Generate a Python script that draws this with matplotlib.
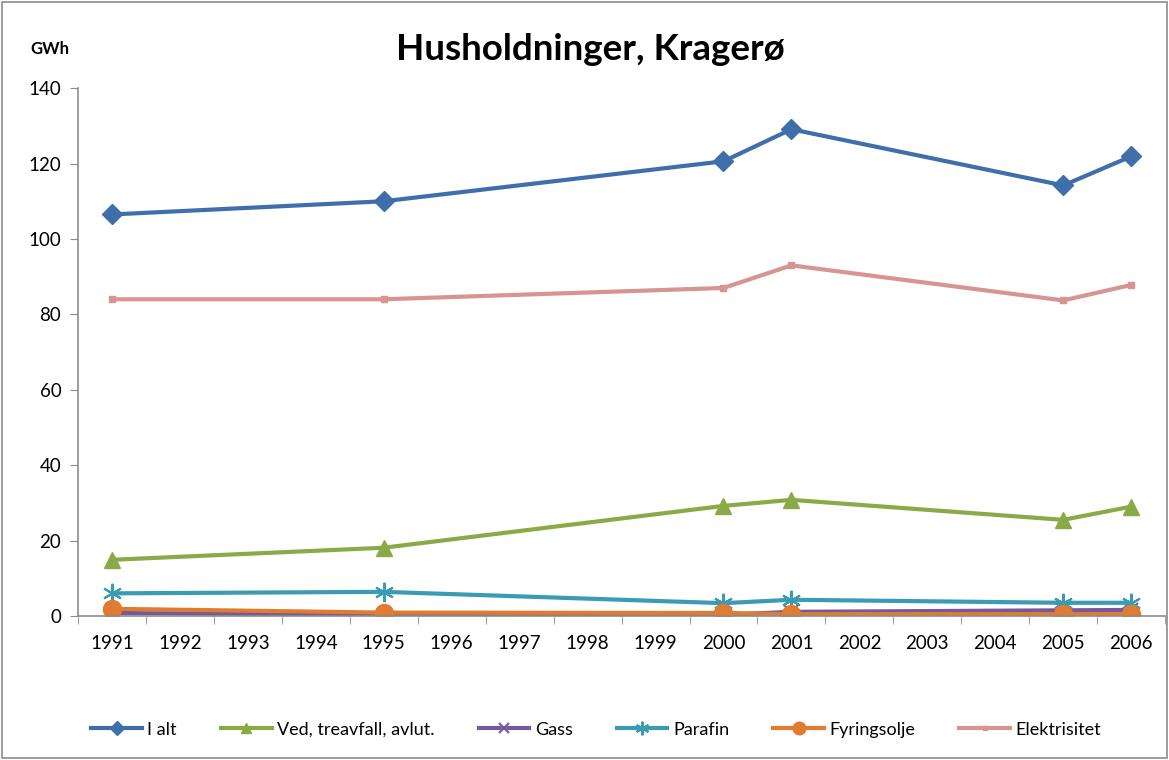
import matplotlib
matplotlib.use("Agg")
import matplotlib.pyplot as plt
from matplotlib.patches import Rectangle

plt.rcParams['font.family'] = ['Lato', 'DejaVu Sans']

years = [str(y) for y in range(1991, 2007)]
data_years = [1991, 1995, 2000, 2001, 2005, 2006]

ialt = [106.5, 110.0, 120.6, 129.1, 114.2, 121.9]
ved = [14.9, 18.1, 29.2, 30.8, 25.5, 29.0]
gass = [0.8, 0.3, 0.3, 1.1, 1.5, 1.6]
parafin = [6.0, 6.4, 3.4, 4.3, 3.5, 3.5]
fyringsolje = [1.9, 0.9, 0.8, 0.5, 0.5, 0.5]
elektrisitet = [84.0, 84.0, 87.0, 93.0, 83.7, 87.8]

series = [
    ("I alt", ialt, "#3F6FAA", "D", 10, {}),
    ("Ved, treavfall, avlut.", ved, "#8AAA48", "^", 11, {}),
    ("Gass", gass, "#76599C", "x", 10, {"markeredgewidth": 1.5}),
    ("Parafin", parafin, "#3B9BB3", (6, 2, 0), 14, {"markeredgewidth": 1.5}),
    ("Fyringsolje", fyringsolje, "#E07B2F", "o", 13, {}),
    ("Elektrisitet", elektrisitet, "#D69493", "s", 4, {}),
]

fig = plt.figure(figsize=(11.69, 7.6), dpi=100)
fig.patches.append(Rectangle((0.002, 0.002), 0.996, 0.995, transform=fig.transFigure,
                             fill=False, edgecolor="#8c8c8c", linewidth=1.2))
ax = fig.add_axes([0.0667, 0.1895, 0.93, 0.6945])

xpos = [years.index(str(y)) for y in data_years]
for name, vals, col, mk, ms, kw in series:
    ax.plot(xpos, vals, color=col, lw=3, marker=mk, markersize=ms,
            markerfacecolor=col, markeredgecolor=col, label=name, **kw)

ax.set_xlim(-0.5, len(years) - 0.5)
ax.set_ylim(0, 140)
ax.set_yticks(range(0, 141, 20))
ax.set_xticks(range(len(years)))
ax.set_xticklabels(years)
ax.set_xticks([i - 0.5 for i in range(len(years) + 1)], minor=True)
ax.tick_params(axis='x', which='major', length=0, pad=14, labelsize=13.5)
ax.tick_params(axis='x', which='minor', length=6, color="#8c8c8c", direction='out')
ax.tick_params(axis='y', length=6, color="#8c8c8c", labelsize=13.5, pad=6)
for s in ['top', 'right']:
    ax.spines[s].set_visible(False)
for s in ['left', 'bottom']:
    ax.spines[s].set_color("#8c8c8c")
    ax.spines[s].set_linewidth(1.2)

fig.text(0.505, 0.935, "Husholdninger, Kragerø", ha='center', va='center',
         fontsize=26.5, fontweight='bold')
fig.text(0.026, 0.935, "GWh", ha='left', va='center', fontsize=12, fontweight='bold')

fig.legend(loc='center', bbox_to_anchor=(0.51, 0.04), ncol=6, frameon=False,
           fontsize=13, handlelength=2.8, columnspacing=2.45, handletextpad=0.3,
           markerscale=0.7)

fig.savefig("out.png", dpi=100)
